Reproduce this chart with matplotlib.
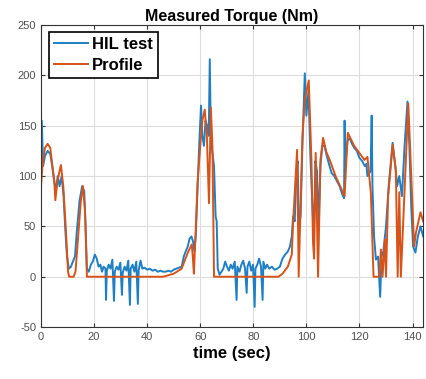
import matplotlib
matplotlib.use("Agg")
import matplotlib.pyplot as plt

plt.rcParams['font.family'] = ['Liberation Sans', 'DejaVu Sans']
plt.rcParams['axes.unicode_minus'] = False

# HIL test (measured) torque, Nm
hil_t = [0, 0.3, 0.8, 1.5, 2.5, 3.5, 4.2, 5, 5.6, 6.3, 7, 7.8, 8.5, 9.2, 9.8, 10.5,
         11.3, 12, 12.8, 13.5, 14.5, 15.5, 16.3, 16.8, 17.3, 18, 18.8, 19.5, 20.3,
         21, 21.7, 22.4, 23, 23.6, 24.3, 24.5, 24.8, 25.5, 26.2, 26.9, 27.5, 27.8,
         28.5, 29.2, 29.9, 30.5, 30.8, 31.5, 32.2, 32.9, 33.5, 33.8, 34.5, 35.2,
         35.9, 36.5, 36.8, 37.5, 38.2, 39, 40, 41, 42, 43, 44, 45, 46, 47, 48, 49,
         50, 51, 52, 53, 53.8, 54.5, 55.3, 56, 56.7, 57.3, 57.8, 58.3, 59, 59.6,
         60.3, 60.8, 61.4, 62, 62.6, 63.2, 63.6, 64, 64.5, 65.2, 65.8, 66.2, 66.6,
         67.3, 68, 68.7, 69.4, 70.1, 70.8, 71.5, 72.2, 73, 73.7, 74, 74.8, 75.5,
         76.2, 76.9, 77.5, 77.8, 78.5, 79.2, 79.9, 80.5, 80.8, 81.5, 82.2, 82.9,
         83.5, 83.8, 84.5, 85.2, 86, 87, 88, 89, 90, 91, 92, 93, 93.8, 94.5, 95,
         95.6, 96.2, 96.7, 97.2, 97.8, 98.5, 99.4, 100, 100.8, 101.5, 102.2, 102.8,
         103.4, 104, 104.6, 105.3, 106, 106.8, 107.5, 108.5, 109.5, 110.5, 111.5,
         112.5, 113.5, 114.2, 114.4, 114.6, 115.5, 116.3, 117, 118, 119, 120, 121,
         122, 122.6, 123, 124.2, 124.6, 124.9, 125.5, 126.2, 127, 127.8, 128.3, 129,
         130, 131, 132.5, 133.5, 134.2, 135, 136, 137, 138.1, 138.8, 139.5, 140.2,
         141.1, 142, 143, 143.5, 144]
hil_v = [100, 155, 110, 120, 125, 122, 110, 95, 85, 100, 90, 100, 80, 45, 20, 8,
         10, 15, 20, 45, 75, 90, 85, 50, 8, 5, 12, 15, 22,
         18, 10, 12, 5, 10, 8, -23, 6, 12, 8, 17, -24, 5,
         10, 7, 14, -18, 4, 10, 6, 16, -28, 8, 12, 5,
         15, -27, 6, 16, 8, 9, 7, 8, 6, 7, 5, 6, 5, 5, 6, 5,
         7, 8, 9, 10, 20, 25, 30, 38, 40, 35, 25, 40, 90, 130,
         170, 140, 130, 155, 150, 140, 216, 140, 125, 110, 60, 55, 8,
         2, 5, 8, 15, 10, 6, 12, 8, 15, -23, 10, 5, 12,
         16, 8, -16, 10, 15, 6, 12, -30, 8, 12, 18, 10,
         -23, 15, 8, 12, 8, 10, 7, 8, 10, 18, 22, 25, 30, 40, 60,
         55, 100, 115, 50, 60, 130, 202, 160, 185, 120, 75, 40,
         115, 105, 50, 110, 130, 130, 122, 112, 103, 100, 95,
         90, 82, 78, 155, 110, 135, 138, 133, 128, 125, 118, 115,
         110, 112, 100, 105, 160, 90, 40, 17, 20, -20, 20, 25,
         50, 90, 133, 110, 90, 100, 80, 130, 174, 130, 70, 30,
         24, 40, 50, 45, 40]

# Reference torque profile, Nm
prof_t = [0, 0.7, 1.5, 2.5, 3.5, 4.3, 5, 5.4, 6.2, 7.5, 8.4, 9.3, 10.2, 10.6, 12.3,
          13, 14, 15, 15.8, 16.6, 17.3, 46, 50, 53, 54, 55.5, 56.8, 57.2, 57.6,
          58.2, 59, 60, 60.8, 61.7, 62.5, 63.3, 64, 64.6, 65.2, 89.5, 91, 93, 94.5,
          95, 96.5, 97.1, 98.5, 99.4, 100.9, 101.9, 102.5, 102.9, 103.5, 104.4,
          105.3, 106.3, 107.5, 108.8, 111, 114.4, 115.6, 118, 121.9, 123, 124.3,
          125.3, 127.4, 128.1, 128.7, 129.6, 130, 130.8, 132.5, 133.7, 134.4, 135,
          135.6, 138.4, 140.6, 141.3, 143, 144]
prof_v = [90, 115, 128, 132, 128, 110, 95, 76, 95, 111, 90, 50, 5, 0, 0,
          5, 40, 75, 90, 65, 0, 0, 3, 8, 15, 25, 32, 20, 3,
          40, 93, 130, 155, 166, 140, 73, 168, 130, 0, 0, 3, 10, 22,
          54, 126, 0, 139, 176, 195, 116, 34, 18, 123, 0,
          116, 138, 124, 116, 100, 80, 143, 130, 116, 119, 83,
          0, 0, 27, 0, 37, 0, 80, 131, 106, 0, 84,
          0, 172, 30, 44, 64, 55]

x_ticks = [0, 20, 40, 60, 80, 100, 120, 140]
y_ticks = [-50, 0, 50, 100, 150, 200, 250]

fig = plt.figure(figsize=(4.27, 3.79), dpi=100)
ax = fig.add_axes([0.096, 0.137, 0.895, 0.797])

ax.plot(hil_t, hil_v, color='#1f7fc4', lw=1.4, label='HIL test')
ax.plot(prof_t, prof_v, color='#D95319', lw=1.4, label='Profile')

ax.set_xlim(0, 144)
ax.set_ylim(-50, 250)
ax.set_xticks(x_ticks)
ax.set_yticks(y_ticks)
ax.tick_params(direction='in', top=True, right=True, labelsize=8,
               labelcolor='#505050', length=3, color='#333333')
ax.grid(True, color='#dddddd', lw=0.8)
ax.set_axisbelow(True)
for s in ax.spines.values():
    s.set_color('#333333')

ax.set_title('Measured Torque (Nm)', fontsize=11.5, fontweight='bold', pad=3)
ax.set_xlabel('time (sec)', fontsize=12, fontweight='bold', labelpad=3)

leg = ax.legend(loc='upper left', bbox_to_anchor=(0.022, 0.978), borderaxespad=0,
                fancybox=False, framealpha=1, edgecolor='black',
                prop={'weight': 'bold', 'size': 12}, handlelength=2.0,
                handletextpad=0.25, borderpad=0.3, labelspacing=0.4)
leg.get_frame().set_linewidth(1.2)

plt.savefig('out.png', dpi=100)
